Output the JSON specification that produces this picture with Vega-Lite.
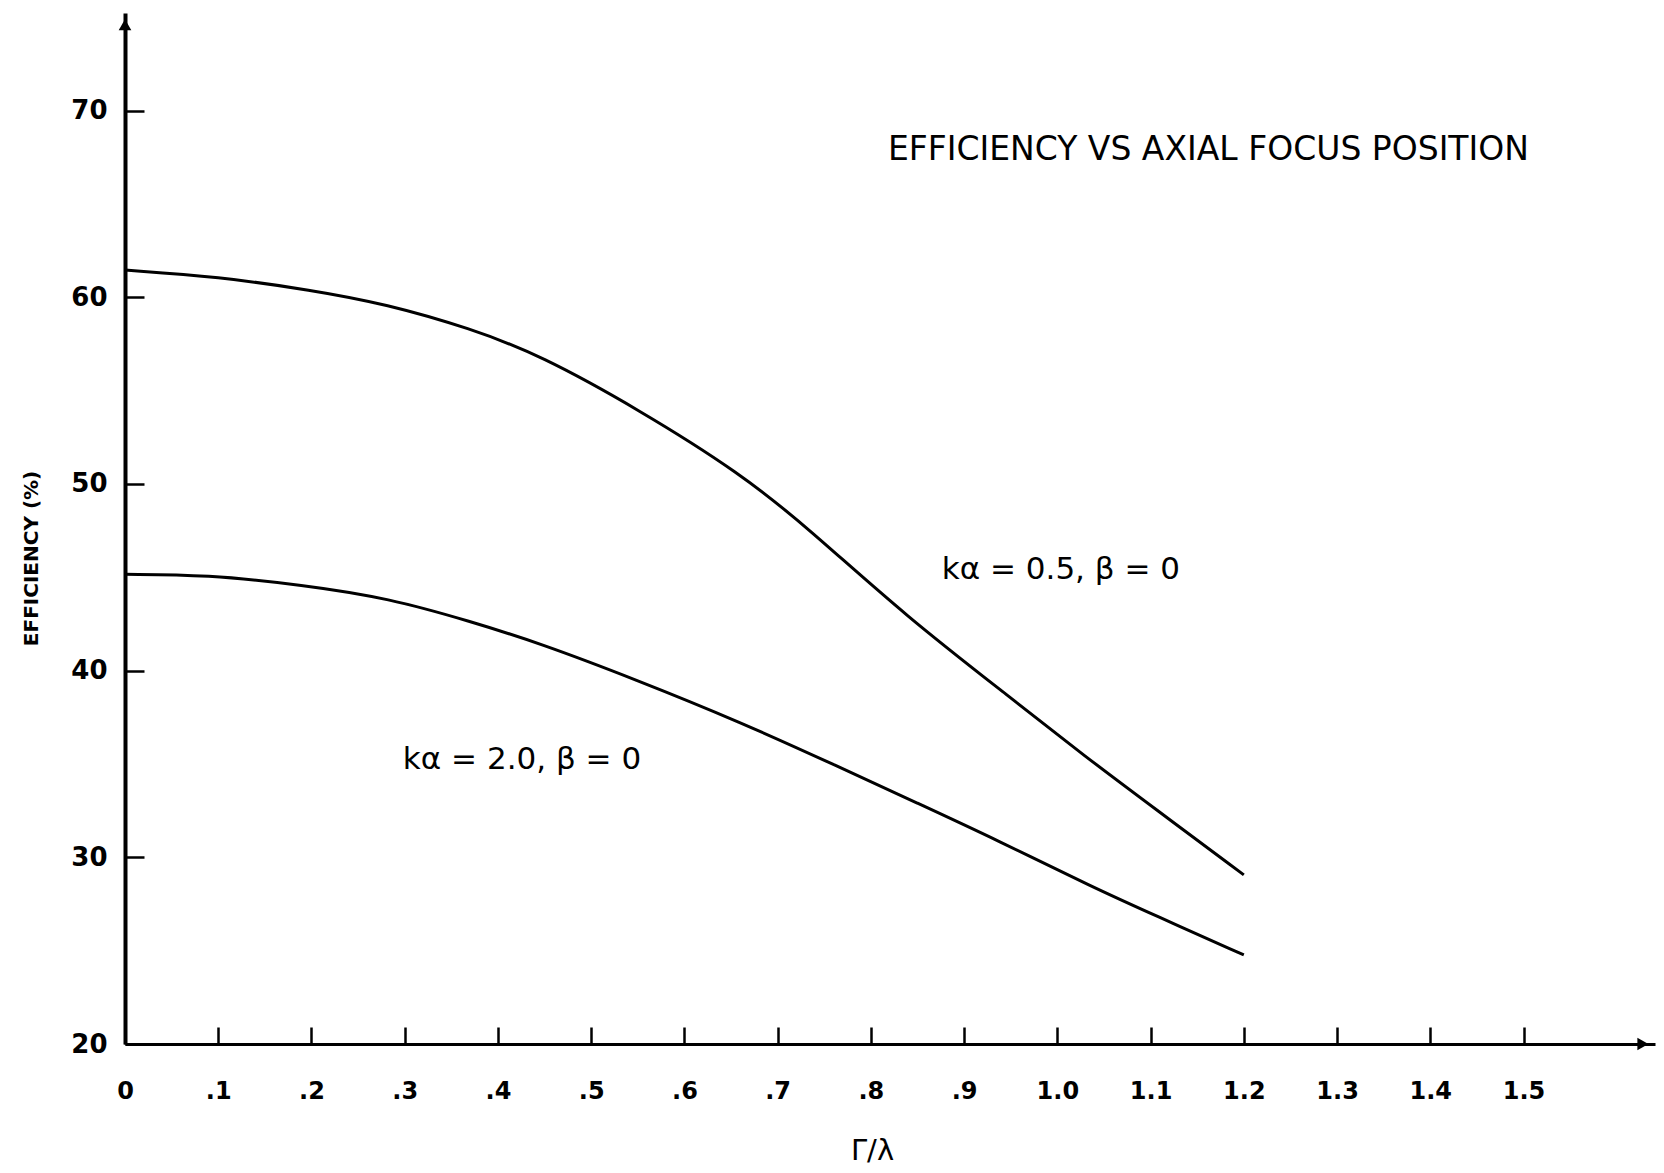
{
  "$schema": "https://vega.github.io/schema/vega-lite/v6.json",
  "width": 1530,
  "height": 1031,
  "autosize": {"type": "none"},
  "padding": {"left": 125, "top": 13, "right": 9, "bottom": 129},
  "background": "white",
  "config": {
    "view": {"stroke": null},
    "font": "DejaVu Sans",
    "axis": {"grid": false, "domainColor": "black", "tickColor": "black", "labelColor": "black", "titleColor": "black", "labelFont": "DejaVu Sans", "titleFont": "DejaVu Sans"}
  },
  "datasets": {
    "curves": [
      {"r": 0.0, "eff": 61.46, "series": "ka=0.5"},
      {"r": 0.1, "eff": 61.1, "series": "ka=0.5"},
      {"r": 0.2, "eff": 60.39, "series": "ka=0.5"},
      {"r": 0.28, "eff": 59.64, "series": "ka=0.5"},
      {"r": 0.37, "eff": 58.34, "series": "ka=0.5"},
      {"r": 0.445, "eff": 56.91, "series": "ka=0.5"},
      {"r": 0.552, "eff": 53.96, "series": "ka=0.5"},
      {"r": 0.66, "eff": 50.57, "series": "ka=0.5"},
      {"r": 0.731, "eff": 47.71, "series": "ka=0.5"},
      {"r": 0.838, "eff": 42.89, "series": "ka=0.5"},
      {"r": 0.953, "eff": 38.43, "series": "ka=0.5"},
      {"r": 1.029, "eff": 35.43, "series": "ka=0.5"},
      {"r": 1.106, "eff": 32.56, "series": "ka=0.5"},
      {"r": 1.2, "eff": 29.06, "series": "ka=0.5"},
      {"r": 0.0, "eff": 45.16, "series": "ka=2.0"},
      {"r": 0.087, "eff": 45.14, "series": "ka=2.0"},
      {"r": 0.191, "eff": 44.59, "series": "ka=2.0"},
      {"r": 0.283, "eff": 43.88, "series": "ka=2.0"},
      {"r": 0.371, "eff": 42.63, "series": "ka=2.0"},
      {"r": 0.445, "eff": 41.47, "series": "ka=2.0"},
      {"r": 0.547, "eff": 39.54, "series": "ka=2.0"},
      {"r": 0.659, "eff": 37.27, "series": "ka=2.0"},
      {"r": 0.765, "eff": 34.86, "series": "ka=2.0"},
      {"r": 0.85, "eff": 32.9, "series": "ka=2.0"},
      {"r": 0.935, "eff": 30.93, "series": "ka=2.0"},
      {"r": 1.04, "eff": 28.35, "series": "ka=2.0"},
      {"r": 1.104, "eff": 26.91, "series": "ka=2.0"},
      {"r": 1.2, "eff": 24.77, "series": "ka=2.0"}
    ],
    "labels": [
      {"r": 0.876, "eff": 45.39, "label": "kα  = 0.5,  β = 0"},
      {"r": 0.298, "eff": 35.22, "label": "kα = 2.0,   β = 0"}
    ],
    "heading": [
      {"r": 1.162, "eff": 67.89, "label": "EFFICIENCY  VS  AXIAL  FOCUS  POSITION"}
    ],
    "arrows": [
      {"r": 0.0, "eff": 74.6, "dir": "up"},
      {"r": 1.628, "eff": 20.0, "dir": "right"}
    ]
  },
  "encoding": {
    "x": {
      "field": "r",
      "type": "quantitative",
      "scale": {"domain": [0, 1.641], "nice": false, "zero": false},
      "axis": {
        "values": [0, 0.1, 0.2, 0.3, 0.4, 0.5, 0.6, 0.7, 0.8, 0.9, 1.0, 1.1, 1.2, 1.3, 1.4, 1.5],
        "labelExpr": "datum.value == 0 ? '0' : (datum.value < 0.95 ? replace(format(datum.value, '.1f'), '0.', '.') : format(datum.value, '.1f'))",
        "labelFlush": false,
        "labelOverlap": false,
        "labelFontSize": 24,
        "labelFontWeight": "bold",
        "labelPadding": 52,
        "tickSize": -17,
        "tickWidth": 2.5,
        "domainWidth": 3,
        "title": "Γ/λ",
        "titleFontSize": 29,
        "titleFontWeight": "normal",
        "titleX": 747,
        "titleY": 106,
        "titleBaseline": "middle",
        "titleAlign": "center"
      }
    },
    "y": {
      "field": "eff",
      "type": "quantitative",
      "scale": {"domain": [20, 75.23], "nice": false, "zero": false},
      "axis": {
        "values": [20, 30, 40, 50, 60, 70],
        "labelFlush": false,
        "labelFontSize": 26,
        "labelFontWeight": "bold",
        "labelPadding": 37,
        "tickSize": -19,
        "tickWidth": 2.5,
        "domainWidth": 4,
        "title": "EFFICIENCY (%)",
        "titleFontSize": 20,
        "titleFontWeight": "bold",
        "titleAngle": 270,
        "titleX": -94,
        "titleY": 545,
        "titleAlign": "center",
        "titleBaseline": "middle"
      }
    }
  },
  "layer": [
    {
      "data": {"name": "curves"},
      "mark": {"type": "line", "color": "black", "strokeWidth": 3, "interpolate": "basis"},
      "encoding": {"detail": {"field": "series"}}
    },
    {
      "data": {"name": "labels"},
      "mark": {"type": "text", "align": "left", "baseline": "middle", "fontSize": 31, "color": "black"},
      "encoding": {"text": {"field": "label"}}
    },
    {
      "data": {"name": "heading"},
      "mark": {"type": "text", "align": "center", "baseline": "middle", "fontSize": 33, "color": "black"},
      "encoding": {"text": {"field": "label"}}
    },
    {
      "data": {"name": "arrows"},
      "mark": {"type": "point", "filled": true, "color": "black", "size": 160, "opacity": 1, "clip": false},
      "encoding": {
        "shape": {"field": "dir", "type": "nominal", "scale": {"domain": ["up", "right"], "range": ["triangle-up", "triangle-right"]}, "legend": null}
      }
    }
  ]
}
